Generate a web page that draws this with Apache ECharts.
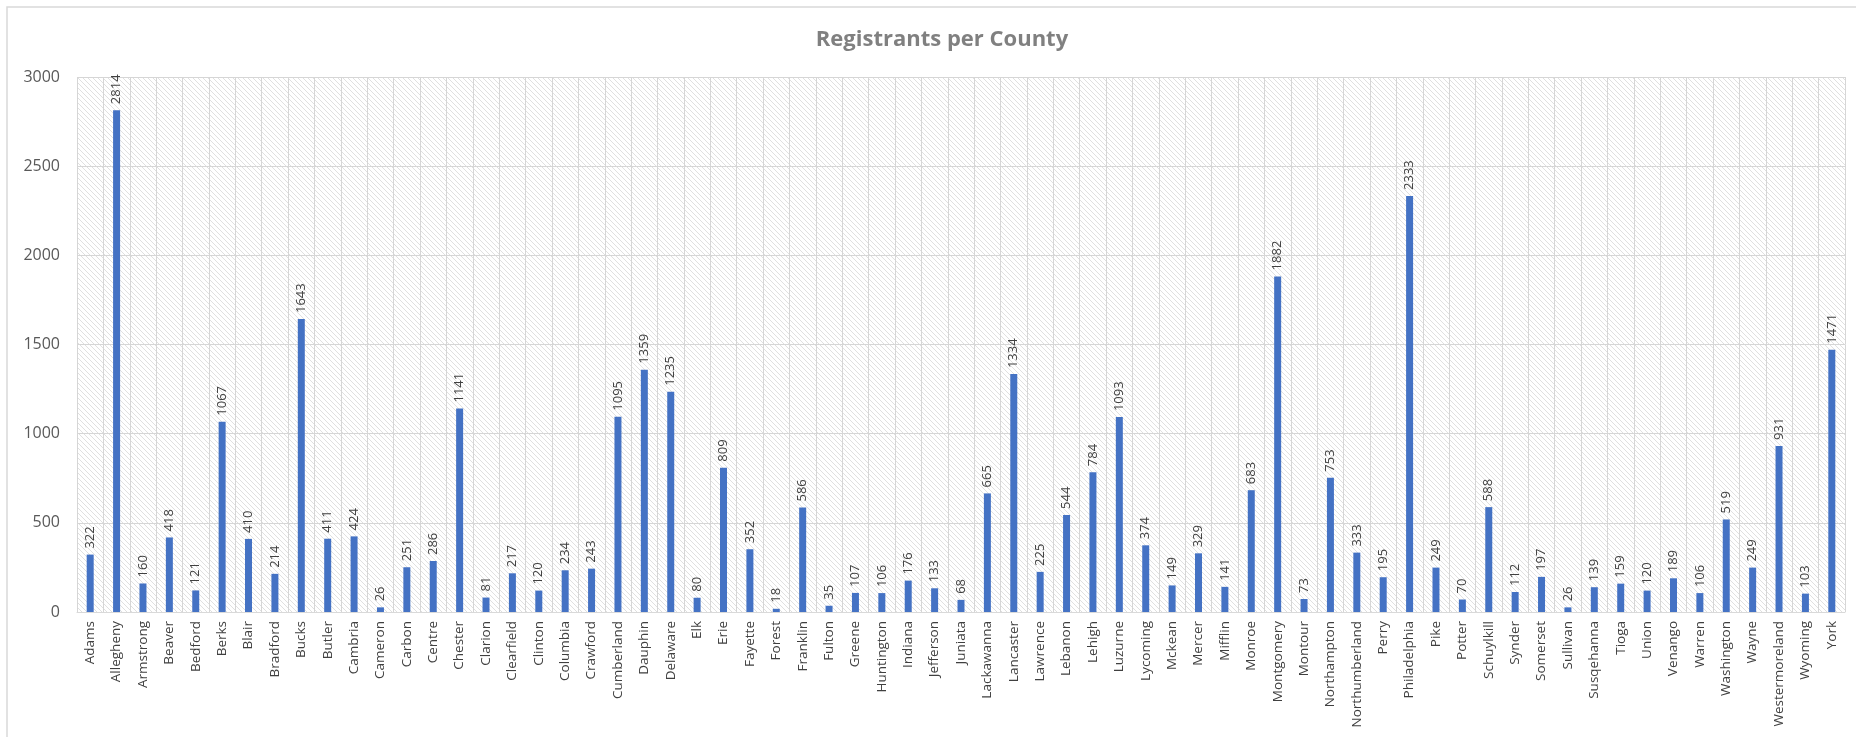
<!DOCTYPE html>
<html>
<head>
<meta charset="utf-8">
<script src="https://cdn.jsdelivr.net/npm/echarts@6/dist/echarts.min.js"></script>
<style>
html,body{margin:0;padding:0;background:#fff;}
#chart{width:1856px;height:737px;}
</style>
</head>
<body>
<div id="chart"></div>
<script>
const counties = ["Adams","Allegheny","Armstrong","Beaver","Bedford","Berks","Blair","Bradford","Bucks","Butler","Cambria","Cameron","Carbon","Centre","Chester","Clarion","Clearfield","Clinton","Columbia","Crawford","Cumberland","Dauphin","Delaware","Elk","Erie","Fayette","Forest","Franklin","Fulton","Greene","Huntington","Indiana","Jefferson","Juniata","Lackawanna","Lancaster","Lawrence","Lebanon","Lehigh","Luzurne","Lycoming","Mckean","Mercer","Mifflin","Monroe","Montgomery","Montour","Northampton","Northumberland","Perry","Philadelphia","Pike","Potter","Schuylkill","Synder","Somerset","Sullivan","Susqehanna","Tioga","Union","Venango","Warren","Washington","Wayne","Westermoreland","Wyoming","York"];
const registrants = [322,2814,160,418,121,1067,410,214,1643,411,424,26,251,286,1141,81,217,120,234,243,1095,1359,1235,80,809,352,18,586,35,107,106,176,133,68,665,1334,225,544,784,1093,374,149,329,141,683,1882,73,753,333,195,2333,249,70,588,112,197,26,139,159,120,189,106,519,249,931,103,1471];
const yTicks = [0,500,1000,1500,2000,2500,3000];

// hatch pattern for plot background
const pc = document.createElement('canvas');
pc.width = 5; pc.height = 5;
const ctx = pc.getContext('2d');
ctx.fillStyle = '#ffffff';
ctx.fillRect(0,0,5,5);
ctx.strokeStyle = '#dcdcdc';
ctx.lineWidth = 0.9;
ctx.beginPath();
ctx.moveTo(-1,-1); ctx.lineTo(6,6);
ctx.moveTo(-1,4); ctx.lineTo(1,6);
ctx.moveTo(4,-1); ctx.lineTo(6,1);
ctx.stroke();

const chart = echarts.init(document.getElementById('chart'));
chart.setOption({
  backgroundColor: '#ffffff',
  animation: false,
  title: {
    text: 'Registrants per County',
    left: 937, top: 24, textAlign: 'center',
    textStyle: {fontFamily: 'Open Sans', fontSize: 22, fontWeight: 'bold', color: '#808080'}
  },
  graphic: [{
    type: 'rect', shape: {x: 7, y: 7, width: 1860, height: 740},
    style: {fill: 'none', stroke: '#d9d9d9', lineWidth: 1.5}, silent: true
  }],
  grid: {
    left: 77, right: 11, top: 77, bottom: 125,
    show: true, borderWidth: 0,
    backgroundColor: {image: pc, repeat: 'repeat'}
  },
  xAxis: {
    type: 'category',
    data: counties,
    axisLine: {lineStyle: {color: '#d9d9d9'}},
    axisTick: {show: false},
    splitLine: {show: true, lineStyle: {color: '#d6d6d6', width: 1}},
    axisLabel: {
      rotate: 90, interval: 0, margin: 9,
      fontFamily: 'Open Sans', fontSize: 13.5, color: '#404040'
    }
  },
  yAxis: {
    type: 'value', min: 0, max: 3000, interval: 500,
    axisLine: {show: false},
    axisTick: {show: false},
    splitLine: {lineStyle: {color: '#d6d6d6'}},
    axisLabel: {
      margin: 17, fontFamily: 'Open Sans', fontSize: 16, color: '#595959',
      formatter: v => yTicks.includes(v) ? String(v) : ''
    }
  },
  series: [{
    type: 'bar',
    data: registrants,
    barWidth: 7,
    itemStyle: {color: '#4472C4'},
    label: {
      show: true, position: 'top', rotate: 90, distance: 6,
      align: 'left', verticalAlign: 'middle',
      fontFamily: 'Open Sans', fontSize: 13, color: '#404040'
    }
  }]
});
</script>
</body>
</html>
